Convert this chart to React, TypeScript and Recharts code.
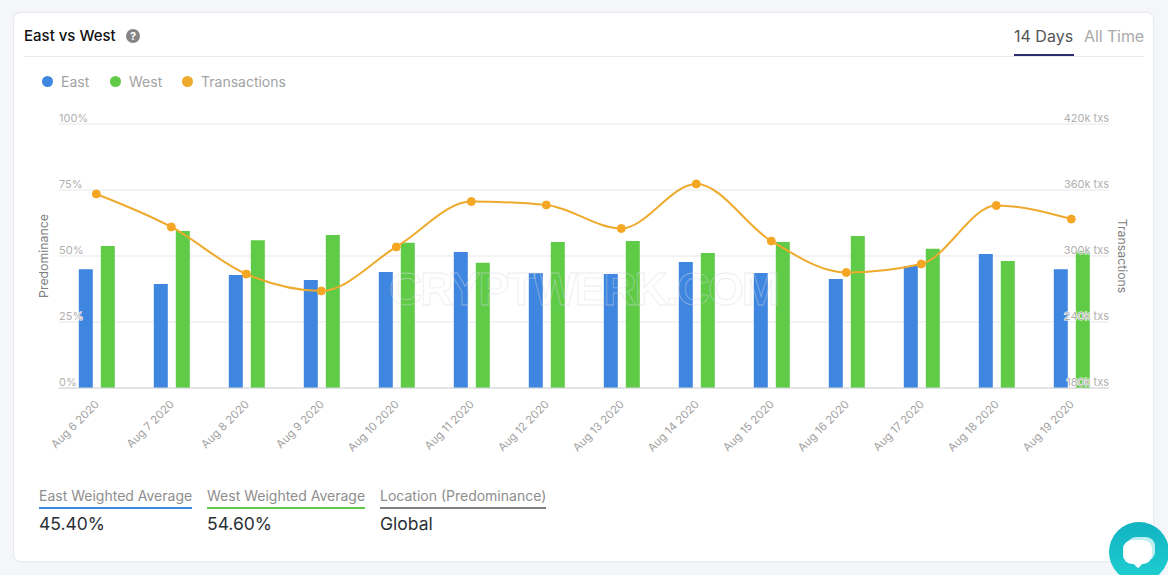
import React from 'react';
import { ComposedChart, Bar, Line, XAxis, YAxis, CartesianGrid, Legend } from 'recharts';

const dates = ['Aug 6 2020','Aug 7 2020','Aug 8 2020','Aug 9 2020','Aug 10 2020','Aug 11 2020','Aug 12 2020','Aug 13 2020','Aug 14 2020','Aug 15 2020','Aug 16 2020','Aug 17 2020','Aug 18 2020','Aug 19 2020'];
const east = [45, 39.4, 42.8, 40.9, 43.9, 51.5, 43.6, 43.2, 47.7, 43.6, 41.3, 46.2, 50.8, 45];
const west = [53.8, 59.5, 56, 58, 55, 47.4, 55.3, 55.7, 51.1, 55.3, 57.6, 52.7, 48.1, 52];
const transactions = [356.4, 326.4, 283.6, 268.2, 308.2, 349.5, 346.4, 325, 365.5, 313.6, 285, 292.7, 345.9, 333.6];
const leftTicks = [0, 25, 50, 75, 100];
const rightTicks = [180, 240, 300, 360, 420];
const legendOrder = ['East', 'West', 'Transactions'];
const stats = [
  { label: 'East Weighted Average', value: '45.40%', color: '#3f86e0', width: 153 },
  { label: 'West Weighted Average', value: '54.60%', color: '#62c94a', width: 158 },
  { label: 'Location (Predominance)', value: 'Global', color: '#808080', width: 166 },
];

const table = dates.map((d, i) => ({ date: d, east: east[i], west: west[i], tx: transactions[i] }));
const FONT = 'Inter, "Noto Sans", sans-serif';
const BLUE = '#3f86e0';
const GREEN = '#5fcb47';
const ORANGE = '#f5a623';
const halo: any = { paintOrder: 'stroke' };

const LeftTick = (p: any) => (
  <text x={59} y={p.y - 2.5} fontSize={11} fontFamily={FONT} fill="#b0b0b0" stroke="#fff" strokeWidth={1.2} style={halo} textAnchor="start">{p.payload.value}%</text>
);
const RightTick = (p: any) => (
  <text x={1109} y={p.y - 2.5} fontSize={11} fontFamily={FONT} fill="#b0b0b0" stroke="#fff" strokeWidth={1.2} style={halo} textAnchor="end">{p.payload.value}k txs</text>
);
const DateTick = (p: any) => (
  <text x={p.x + 3.5} y={p.y + 9} fontSize={11.2} fontFamily={FONT} fill="#a2a2a2" textAnchor="end" transform={`rotate(-45 ${p.x + 3.5} ${p.y + 9})`}>{p.payload.value}</text>
);
const LegendContent = (p: any) => {
  const xs = [47, 115, 187];
  const items = legendOrder.map((n) => (p.payload || []).find((e: any) => e.value === n)).filter(Boolean);
  return (
    <div style={{ position: 'relative', height: 20, width: 400 }}>
      {items.map((e: any, i: number) => (
        <div key={e.value} style={{ position: 'absolute', left: xs[i] - 5, top: 0, display: 'flex', alignItems: 'center', fontFamily: FONT, fontSize: 14, color: '#a3a3a3', whiteSpace: 'nowrap' }}>
          <span style={{ width: 11, height: 11, borderRadius: 6, background: e.color, display: 'inline-block', marginRight: 8 }} />
          {e.value}
        </div>
      ))}
    </div>
  );
};

export default function App() {
  return (
    <div style={{ position: 'fixed', left: 0, top: 0, width: 1168, height: 575, background: '#f4f6fa', overflow: 'hidden', fontFamily: FONT }}>
      <div style={{ position: 'absolute', left: 14, top: 13, width: 1139, height: 548, background: '#fff', borderRadius: 6, boxShadow: '0 0 2px rgba(0,0,0,0.18)' }} />
      <div style={{ position: 'absolute', left: 24, top: 26, fontSize: 15, fontWeight: 500, color: '#111' }}>East vs West</div>
      <div style={{ position: 'absolute', left: 126, top: 29, width: 14, height: 14, borderRadius: 7, background: '#858585', color: '#fff', fontSize: 11, fontWeight: 700, lineHeight: '14px', textAlign: 'center' }}>?</div>
      <div style={{ position: 'absolute', left: 24, top: 56, width: 1120, height: 1, background: '#e8e9ec' }} />
      <div style={{ position: 'absolute', left: 1014, top: 26, fontSize: 16, color: '#555' }}>14 Days</div>
      <div style={{ position: 'absolute', left: 1084, top: 26, fontSize: 16, color: '#aaa', letterSpacing: -0.1 }}>All Time</div>
      <div style={{ position: 'absolute', left: 1014, top: 54, width: 60, height: 2, background: '#2b2d6e' }} />

      <div style={{ position: 'absolute', left: 0, top: 0 }}>
        <ComposedChart width={1168} height={575} data={table} barSize={14} barGap={8} margin={{ top: 104, bottom: 127, left: 57.8, right: 58.2 }}>
          <CartesianGrid vertical={false} stroke="#e6e7ea" yAxisId="left" />
          <XAxis dataKey="date" interval={0} height={60} tickLine={false} axisLine={{ stroke: '#d4d4d8' }} tick={DateTick} />
          <Legend verticalAlign="top" align="left" content={LegendContent} wrapperStyle={{ position: 'absolute', left: 0, top: 73, width: 400, height: 20 }} />
          <Bar yAxisId="left" dataKey="east" name="East" fill={BLUE} isAnimationActive={false} zIndex={300} />
          <Bar yAxisId="left" dataKey="west" name="West" fill={GREEN} isAnimationActive={false} zIndex={300} />
          <YAxis yAxisId="left" domain={[0, 100]} ticks={leftTicks} width={1} axisLine={false} tickLine={false} tick={LeftTick} zIndex={600}
            label={{ value: 'Predominance', angle: -90, position: 'left', offset: 14, textAnchor: 'middle', style: { fontSize: 12.3, fontFamily: FONT, fill: '#808080' } }} />
          <YAxis yAxisId="right" orientation="right" domain={[180, 420]} ticks={rightTicks} width={1} axisLine={false} tickLine={false} tick={RightTick} zIndex={600}
            label={{ value: 'Transactions', angle: 90, position: 'right', offset: 13, textAnchor: 'middle', style: { fontSize: 12.3, fontFamily: FONT, fill: '#808080' } }} />
          <Line yAxisId="right" dataKey="tx" name="Transactions" type="monotone" stroke="#eeaa2c" strokeWidth={2} dot={{ r: 4, fill: ORANGE, stroke: ORANGE, strokeWidth: 1 }} isAnimationActive={false} zIndex={400} />
        </ComposedChart>
      </div>

      <svg width={1168} height={575} style={{ position: 'absolute', left: 0, top: 0, pointerEvents: 'none' }}>
        <text x={389} y={305} fontSize={46} fontWeight={700} fontFamily="'Liberation Sans', sans-serif" textLength={391} lengthAdjust="spacing" fill="none" stroke="#d6dae0" strokeOpacity={0.5} strokeWidth={0.8}>CRYPTWERK.COM</text>
      </svg>

      {stats.map((s, i) => (
        <div key={s.label} style={{ position: 'absolute', left: [39, 207, 380][i], top: 487, width: s.width }}>
          <div style={{ fontSize: 14, color: '#8e8e8e', whiteSpace: 'nowrap', lineHeight: '18px', borderBottom: `2px solid ${s.color}`, paddingBottom: 2 }}>{s.label}</div>
          <div style={{ fontSize: 17.5, color: '#2b2f36', marginTop: 4, lineHeight: '22px' }}>{s.value}</div>
        </div>
      ))}

      <div style={{ position: 'absolute', left: 1109, top: 522, width: 60, height: 60, borderRadius: 30, background: 'linear-gradient(180deg,#12b3c2,#1fcfd0)' }} />
      <div style={{ position: 'absolute', left: 1127, top: 537, width: 28, height: 24, borderRadius: 9, background: '#bdeef0' }} />
      <div style={{ position: 'absolute', left: 1123, top: 540, width: 29, height: 24, borderRadius: 9, background: '#fff' }} />
      <div style={{ position: 'absolute', left: 1135, top: 561, width: 6, height: 6, background: '#fff', transform: 'rotate(45deg)' }} />
    </div>
  );
}
